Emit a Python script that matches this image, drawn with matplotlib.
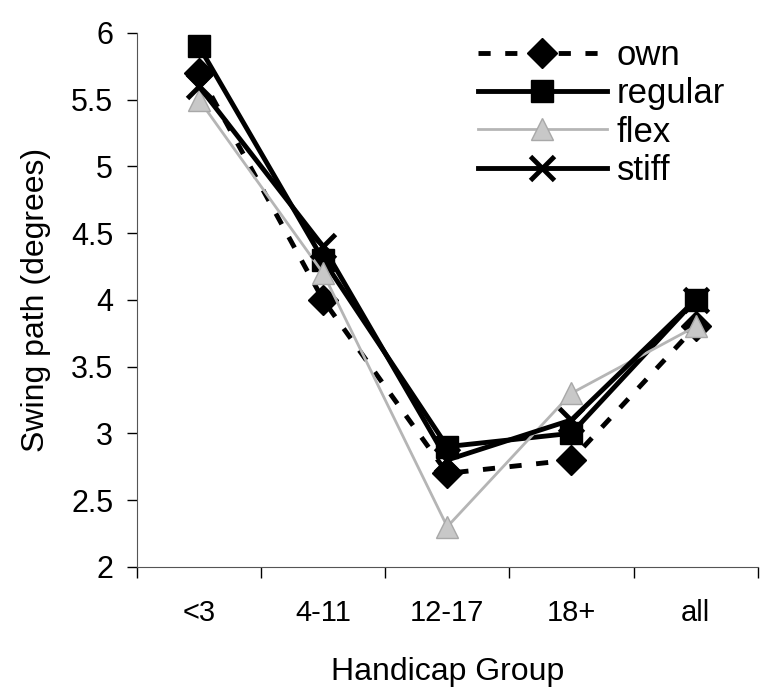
import matplotlib
matplotlib.use("Agg")
import matplotlib.pyplot as plt
import numpy as np

# Data
groups = ['<3', '4-11', '12-17', '18+', 'all']
own = [5.7, 4.0, 2.7, 2.8, 3.8]
regular = [5.9, 4.3, 2.9, 3.0, 4.0]
flex = [5.5, 4.2, 2.3, 3.3, 3.8]
stiff = [5.6, 4.4, 2.8, 3.1, 4.0]

plt.rcParams['font.family'] = ['Liberation Sans', 'DejaVu Sans']

fig = plt.figure(figsize=(7.6, 6.98), dpi=100)
ax = fig.add_axes([0.18, 0.188, 0.817, 0.765])

x = np.arange(len(groups))

ax.plot(x, own, color='black', linestyle=(0, (2.5, 3)), linewidth=3.5,
        marker='D', markersize=15, markerfacecolor='black', markeredgecolor='black', label='own')
ax.plot(x, regular, color='black', linestyle='-', linewidth=3.5,
        marker='s', markersize=16, markerfacecolor='black', markeredgecolor='black', label='regular')
ax.plot(x, flex, color='#b5b5b5', linestyle='-', linewidth=2,
        marker='^', markersize=16, markerfacecolor='#c8c8c8', markeredgecolor='#a8a8a8', label='flex')
ax.plot(x, stiff, color='black', linestyle='-', linewidth=3.5,
        marker='x', markersize=17, markeredgewidth=3.5, markeredgecolor='black', label='stiff')

ax.set_xlim(-0.5, len(groups) - 0.5)
ax.set_ylim(2, 6)

# Category labels at centres, tick marks between categories
ax.set_xticks(x)
ax.set_xticklabels(groups, fontsize=21)
ax.tick_params(axis='x', which='major', length=0, pad=23)
ax.set_xticks(np.arange(-0.5, len(groups)), minor=True)
ax.tick_params(axis='x', which='minor', length=8, width=1, direction='out')

ax.set_yticks(np.arange(2, 6.01, 0.5))
ax.set_yticklabels(['2', '2.5', '3', '3.5', '4', '4.5', '5', '5.5', '6'], fontsize=22)
ax.tick_params(axis='y', length=7, width=1, direction='out', pad=10)

ax.set_xlabel('Handicap Group', fontsize=23, labelpad=22)
ax.set_ylabel('Swing path (degrees)', fontsize=23, labelpad=14)

ax.spines['top'].set_visible(False)
ax.spines['right'].set_visible(False)
ax.spines['left'].set_color('#555555')
ax.spines['bottom'].set_color('#555555')

ax.legend(loc='upper left', bbox_to_anchor=(0.629, 0.944), bbox_transform=fig.transFigure,
          frameon=False, fontsize=25, handlelength=3.7, handletextpad=0.3,
          labelspacing=0.15, borderpad=0, borderaxespad=0)

plt.savefig('out.png', dpi=100)
